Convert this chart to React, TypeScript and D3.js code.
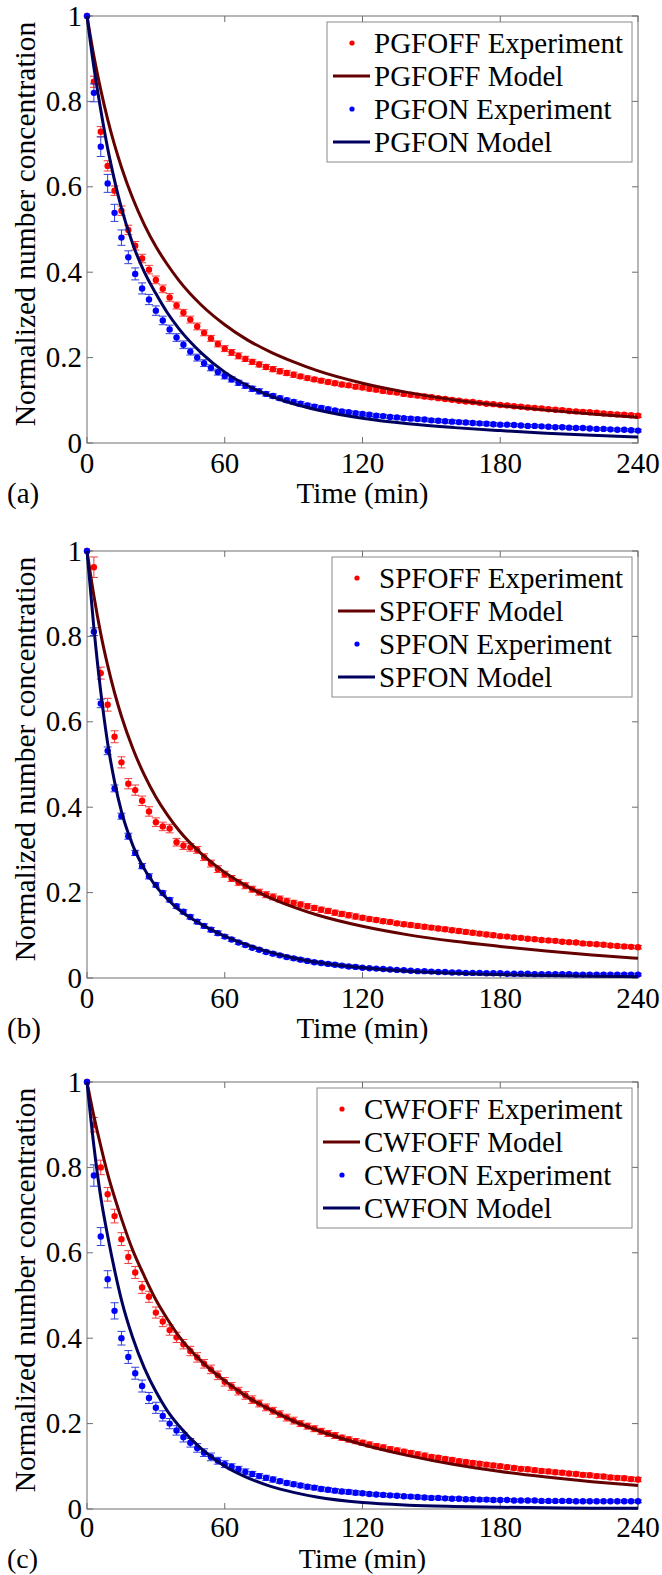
import React from 'react'
import * as d3 from 'd3'

// one experimental reading every 3 min, model curves sampled on a coarser grid
const expTimes = d3.range(0, 241, 3)
const modelTimes = [0, 3, 6, 9, 12, 15, 20, 25, 30, 35, 40, 50, 60, 70, 80, 90, 100, 120, 140, 160, 180, 200, 220, 240]
const xTicks = [0, 60, 120, 180, 240]
const yTicks = [0, 0.2, 0.4, 0.6, 0.8, 1]

// ---- panel (a) PGF ----
const pgfOffExp = [
	1.0, 0.846, 0.729, 0.649, 0.591, 0.544, 0.499, 0.462, 0.432, 0.406,
	0.382, 0.361, 0.341, 0.322, 0.305, 0.289, 0.273, 0.258, 0.245, 0.232,
	0.221, 0.212, 0.204, 0.197, 0.19, 0.184, 0.178, 0.173, 0.168, 0.164,
	0.16, 0.156, 0.152, 0.149, 0.146, 0.143, 0.14, 0.137, 0.135, 0.132,
	0.13, 0.127, 0.125, 0.122, 0.12, 0.118, 0.115, 0.113, 0.111, 0.109,
	0.107, 0.105, 0.103, 0.101, 0.099, 0.097, 0.096, 0.094, 0.092, 0.091,
	0.089, 0.088, 0.086, 0.085, 0.083, 0.082, 0.081, 0.079, 0.078, 0.077,
	0.075, 0.074, 0.073, 0.072, 0.071, 0.069, 0.068, 0.067, 0.066, 0.065,
	0.064,
]
const pgfOffErr = [
	0, 0.013, 0.012, 0.012, 0.011, 0.011, 0.011, 0.01, 0.01, 0.01,
	0.009, 0.009, 0.009, 0.008, 0.008, 0.008, 0.008, 0.007, 0.007, 0.007,
	0.007, 0.007, 0.007, 0.006, 0.006, 0.006, 0.006, 0.006, 0.006, 0.006,
	0.006, 0.005, 0.005, 0.005, 0.005, 0.005, 0.005, 0.005, 0.005, 0.005,
	0.005, 0.005, 0.005, 0.005, 0.005, 0.005, 0.005, 0.005, 0.005, 0.005,
	0.005, 0.004, 0.004, 0.004, 0.004, 0.004, 0.004, 0.004, 0.004, 0.004,
	0.004, 0.004, 0.004, 0.004, 0.004, 0.004, 0.004, 0.004, 0.004, 0.004,
	0.004, 0.004, 0.004, 0.004, 0.004, 0.004, 0.004, 0.004, 0.004, 0.004,
	0.004,
]
const pgfOnExp = [
	1.0, 0.82, 0.694, 0.608, 0.539, 0.481, 0.435, 0.396, 0.362, 0.336,
	0.31, 0.287, 0.266, 0.247, 0.23, 0.214, 0.2, 0.187, 0.176, 0.166,
	0.157, 0.149, 0.141, 0.134, 0.127, 0.121, 0.115, 0.11, 0.105, 0.1,
	0.096, 0.092, 0.088, 0.085, 0.082, 0.079, 0.076, 0.074, 0.072, 0.07,
	0.068, 0.066, 0.064, 0.063, 0.061, 0.06, 0.058, 0.057, 0.056, 0.055,
	0.053, 0.052, 0.051, 0.05, 0.049, 0.048, 0.047, 0.046, 0.045, 0.044,
	0.043, 0.043, 0.042, 0.041, 0.04, 0.04, 0.039, 0.038, 0.037, 0.037,
	0.036, 0.035, 0.035, 0.034, 0.033, 0.033, 0.032, 0.031, 0.031, 0.03,
	0.029,
]
const pgfOnErr = [
	0, 0.021, 0.023, 0.021, 0.02, 0.018, 0.015, 0.014, 0.013, 0.012,
	0.011, 0.01, 0.01, 0.009, 0.009, 0.008, 0.008, 0.008, 0.007, 0.007,
	0.007, 0.006, 0.006, 0.006, 0.006, 0.006, 0.005, 0.005, 0.005, 0.005,
	0.005, 0.005, 0.005, 0.005, 0.005, 0.005, 0.004, 0.004, 0.004, 0.004,
	0.004, 0.004, 0.004, 0.004, 0.004, 0.004, 0.004, 0.004, 0.004, 0.004,
	0.004, 0.004, 0.004, 0.004, 0.004, 0.004, 0.004, 0.004, 0.004, 0.004,
	0.003, 0.003, 0.003, 0.003, 0.003, 0.003, 0.003, 0.003, 0.003, 0.003,
	0.003, 0.003, 0.003, 0.003, 0.003, 0.003, 0.003, 0.003, 0.003, 0.003,
	0.003,
]
const pgfOffModel = [1, 0.906, 0.827, 0.758, 0.698, 0.646, 0.572, 0.511, 0.46, 0.418, 0.381, 0.322, 0.277, 0.241, 0.213, 0.19, 0.17, 0.14, 0.118, 0.101, 0.088, 0.077, 0.068, 0.06]
const pgfOnModel = [1, 0.88, 0.78, 0.69, 0.615, 0.55, 0.465, 0.4, 0.35, 0.305, 0.268, 0.21, 0.166, 0.134, 0.11, 0.092, 0.078, 0.058, 0.045, 0.036, 0.029, 0.023, 0.018, 0.014]

// ---- panel (b) SPF ----
const spfOffExp = [
	1.0, 0.962, 0.714, 0.64, 0.565, 0.505, 0.455, 0.44, 0.415, 0.39,
	0.365, 0.355, 0.35, 0.318, 0.31, 0.306, 0.3, 0.283, 0.268, 0.255,
	0.243, 0.233, 0.224, 0.216, 0.208, 0.201, 0.195, 0.19, 0.185, 0.18,
	0.176, 0.172, 0.168, 0.164, 0.16, 0.157, 0.153, 0.15, 0.147, 0.144,
	0.141, 0.138, 0.136, 0.133, 0.131, 0.128, 0.126, 0.124, 0.122, 0.12,
	0.118, 0.116, 0.114, 0.112, 0.11, 0.108, 0.106, 0.104, 0.102, 0.1,
	0.098, 0.097, 0.095, 0.094, 0.092, 0.091, 0.089, 0.088, 0.087, 0.085,
	0.084, 0.083, 0.081, 0.08, 0.079, 0.078, 0.076, 0.075, 0.074, 0.073,
	0.072,
]
const spfOffErr = [
	0, 0.024, 0.014, 0.015, 0.014, 0.013, 0.012, 0.012, 0.011, 0.011,
	0.01, 0.01, 0.01, 0.009, 0.009, 0.009, 0.008, 0.008, 0.008, 0.008,
	0.007, 0.007, 0.007, 0.007, 0.007, 0.007, 0.007, 0.007, 0.007, 0.007,
	0.006, 0.006, 0.006, 0.006, 0.006, 0.006, 0.006, 0.006, 0.006, 0.006,
	0.005, 0.005, 0.005, 0.005, 0.005, 0.005, 0.005, 0.005, 0.005, 0.005,
	0.005, 0.005, 0.005, 0.005, 0.005, 0.005, 0.005, 0.005, 0.005, 0.005,
	0.004, 0.004, 0.004, 0.004, 0.004, 0.004, 0.004, 0.004, 0.004, 0.004,
	0.004, 0.004, 0.004, 0.004, 0.004, 0.004, 0.004, 0.004, 0.004, 0.004,
	0.004,
]
const spfOnExp = [
	1.0, 0.811, 0.643, 0.532, 0.444, 0.379, 0.332, 0.293, 0.262, 0.238,
	0.218, 0.199, 0.183, 0.168, 0.155, 0.143, 0.132, 0.122, 0.113, 0.105,
	0.097, 0.09, 0.083, 0.077, 0.071, 0.066, 0.061, 0.057, 0.053, 0.049,
	0.046, 0.043, 0.04, 0.037, 0.035, 0.033, 0.031, 0.029, 0.027, 0.026,
	0.024, 0.023, 0.022, 0.021, 0.02, 0.019, 0.018, 0.017, 0.016, 0.016,
	0.015, 0.014, 0.014, 0.013, 0.013, 0.012, 0.012, 0.012, 0.011, 0.011,
	0.011, 0.01, 0.01, 0.01, 0.01, 0.009, 0.009, 0.009, 0.009, 0.009,
	0.009, 0.008, 0.008, 0.008, 0.008, 0.008, 0.008, 0.008, 0.008, 0.008,
	0.008,
]
const spfOnErr = [
	0, 0.009, 0.01, 0.009, 0.008, 0.007, 0.007, 0.006, 0.006, 0.006,
	0.005, 0.005, 0.005, 0.005, 0.005, 0.005, 0.005, 0.005, 0.005, 0.005,
	0.004, 0.004, 0.004, 0.004, 0.004, 0.004, 0.004, 0.004, 0.004, 0.004,
	0.004, 0.004, 0.004, 0.004, 0.004, 0.004, 0.004, 0.004, 0.004, 0.004,
	0.003, 0.003, 0.003, 0.003, 0.003, 0.003, 0.003, 0.003, 0.003, 0.003,
	0.003, 0.003, 0.003, 0.003, 0.003, 0.003, 0.003, 0.003, 0.003, 0.003,
	0.003, 0.003, 0.003, 0.003, 0.003, 0.003, 0.003, 0.003, 0.003, 0.003,
	0.003, 0.003, 0.003, 0.003, 0.003, 0.003, 0.003, 0.003, 0.003, 0.003,
	0.003,
]
const spfOffModel = [1, 0.895, 0.806, 0.732, 0.668, 0.613, 0.537, 0.475, 0.424, 0.382, 0.346, 0.29, 0.247, 0.214, 0.187, 0.166, 0.148, 0.121, 0.101, 0.086, 0.074, 0.063, 0.054, 0.046]
const spfOnModel = [1, 0.82, 0.67, 0.55, 0.46, 0.39, 0.31, 0.255, 0.215, 0.185, 0.16, 0.125, 0.098, 0.077, 0.06, 0.047, 0.037, 0.024, 0.016, 0.011, 0.008, 0.006, 0.004, 0.003]

// ---- panel (c) CWF ----
const cwfOffExp = [
	1.0, 0.9, 0.8, 0.737, 0.686, 0.632, 0.59, 0.554, 0.519, 0.497,
	0.46, 0.439, 0.419, 0.402, 0.386, 0.37, 0.355, 0.34, 0.327, 0.313,
	0.298, 0.287, 0.276, 0.266, 0.256, 0.247, 0.238, 0.23, 0.222, 0.214,
	0.207, 0.2, 0.194, 0.188, 0.182, 0.177, 0.172, 0.167, 0.163, 0.159,
	0.155, 0.151, 0.147, 0.144, 0.14, 0.137, 0.134, 0.131, 0.128, 0.125,
	0.122, 0.12, 0.117, 0.115, 0.112, 0.11, 0.108, 0.106, 0.104, 0.102,
	0.1, 0.098, 0.096, 0.094, 0.093, 0.091, 0.089, 0.088, 0.086, 0.085,
	0.083, 0.082, 0.08, 0.079, 0.077, 0.076, 0.074, 0.073, 0.072, 0.07,
	0.069,
]
const cwfOffErr = [
	0, 0.017, 0.017, 0.016, 0.016, 0.015, 0.015, 0.014, 0.014, 0.013,
	0.013, 0.012, 0.012, 0.012, 0.011, 0.011, 0.011, 0.01, 0.01, 0.01,
	0.01, 0.009, 0.009, 0.009, 0.009, 0.008, 0.008, 0.008, 0.008, 0.008,
	0.008, 0.007, 0.007, 0.007, 0.007, 0.007, 0.007, 0.006, 0.006, 0.006,
	0.006, 0.006, 0.006, 0.006, 0.006, 0.006, 0.006, 0.006, 0.006, 0.006,
	0.005, 0.005, 0.005, 0.005, 0.005, 0.005, 0.005, 0.005, 0.005, 0.005,
	0.005, 0.005, 0.005, 0.005, 0.005, 0.005, 0.005, 0.005, 0.005, 0.005,
	0.005, 0.005, 0.005, 0.005, 0.005, 0.005, 0.005, 0.005, 0.005, 0.005,
	0.005,
]
const cwfOnExp = [
	1.0, 0.781, 0.638, 0.538, 0.464, 0.4, 0.356, 0.318, 0.288, 0.26,
	0.237, 0.218, 0.2, 0.184, 0.168, 0.155, 0.143, 0.132, 0.122, 0.113,
	0.105, 0.099, 0.093, 0.087, 0.082, 0.077, 0.073, 0.069, 0.065, 0.061,
	0.058, 0.055, 0.052, 0.05, 0.047, 0.045, 0.043, 0.041, 0.04, 0.038,
	0.037, 0.035, 0.034, 0.033, 0.032, 0.031, 0.03, 0.029, 0.028, 0.027,
	0.026, 0.026, 0.025, 0.024, 0.024, 0.023, 0.023, 0.022, 0.022, 0.021,
	0.021, 0.021, 0.02, 0.02, 0.02, 0.02, 0.019, 0.019, 0.019, 0.019,
	0.019, 0.018, 0.018, 0.018, 0.018, 0.018, 0.018, 0.018, 0.018, 0.018,
	0.018,
]
const cwfOnErr = [
	0, 0.025, 0.021, 0.02, 0.019, 0.016, 0.015, 0.014, 0.014, 0.013,
	0.013, 0.012, 0.012, 0.011, 0.011, 0.01, 0.01, 0.009, 0.009, 0.008,
	0.008, 0.007, 0.007, 0.007, 0.006, 0.006, 0.006, 0.006, 0.005, 0.005,
	0.005, 0.005, 0.005, 0.005, 0.005, 0.005, 0.005, 0.005, 0.005, 0.005,
	0.004, 0.004, 0.004, 0.004, 0.004, 0.004, 0.004, 0.004, 0.004, 0.004,
	0.004, 0.004, 0.004, 0.004, 0.004, 0.004, 0.004, 0.004, 0.004, 0.004,
	0.003, 0.003, 0.003, 0.003, 0.003, 0.003, 0.003, 0.003, 0.003, 0.003,
	0.003, 0.003, 0.003, 0.003, 0.003, 0.003, 0.003, 0.003, 0.003, 0.003,
	0.003,
]
const cwfOffModel = [1, 0.92, 0.85, 0.785, 0.73, 0.68, 0.605, 0.545, 0.49, 0.445, 0.405, 0.345, 0.3, 0.262, 0.232, 0.206, 0.185, 0.151, 0.125, 0.104, 0.088, 0.075, 0.064, 0.055]
const cwfOnModel = [1, 0.85, 0.73, 0.64, 0.56, 0.49, 0.4, 0.33, 0.275, 0.23, 0.195, 0.14, 0.1, 0.073, 0.053, 0.039, 0.028, 0.015, 0.009, 0.006, 0.004, 0.003, 0.002, 0.002]

const panels = [
	{ tag: '(a)', name: 'PGF', top: 16, legendW: 305, offExp: pgfOffExp, offErr: pgfOffErr, onExp: pgfOnExp, onErr: pgfOnErr, offModel: pgfOffModel, onModel: pgfOnModel },
	{ tag: '(b)', name: 'SPF', top: 551, legendW: 300, offExp: spfOffExp, offErr: spfOffErr, onExp: spfOnExp, onErr: spfOnErr, offModel: spfOffModel, onModel: spfOnModel },
	{ tag: '(c)', name: 'CWF', top: 1082, legendW: 315, offExp: cwfOffExp, offErr: cwfOffErr, onExp: cwfOnExp, onErr: cwfOnErr, offModel: cwfOffModel, onModel: cwfOnModel },
]

const W = 662
const H = 1575
const left = 87
const right = 638
const plotH = 427
const font = "'Liberation Serif', 'Times New Roman', 'DejaVu Serif', serif"
const red = '#ff0000'
const redBar = '#f23a3a'
const blue = '#0000ff'
const blueBar = '#2f3fd8'
const darkRed = '#640000'
const navy = '#00005e'

const ErrorSeries = ({ x, y, values, errs, color, barColor }) => (
	<g>
		{values.map((v, i) => {
			const cx = x(expTimes[i])
			const e = errs[i]
			return (
				<g key={i}>
					{e > 0 && (
						<g stroke={barColor} strokeWidth={1}>
							<line x1={cx} x2={cx} y1={y(v - e)} y2={y(v + e)} />
							<line x1={cx - 4} x2={cx + 4} y1={y(v - e)} y2={y(v - e)} />
							<line x1={cx - 4} x2={cx + 4} y1={y(v + e)} y2={y(v + e)} />
						</g>
					)}
					<circle cx={cx} cy={y(v)} r={3.2} fill={color} />
				</g>
			)
		})}
	</g>
)

const Panel = ({ p }) => {
	const bottom = p.top + plotH
	const x = d3.scaleLinear().domain([0, 240]).range([left, right])
	const y = d3.scaleLinear().domain([0, 1]).range([bottom, p.top])
	const line = d3
		.line<number>()
		.x((d, i) => x(modelTimes[i]))
		.y(d => y(d))
		.curve(d3.curveMonotoneX)

	// the last panel's title row sits right at the bottom edge of the figure
	const squeezed = bottom + 60 > H - 7
	const titleY = squeezed ? H - 7 : bottom + 60
	const titleSize = squeezed ? 28 : 29
	const tickY = squeezed ? bottom + 28 : bottom + 30

	const lx = 632 - p.legendW
	const ly = p.top + 6
	const rows = [
		{ label: `${p.name}OFF Experiment`, kind: 'dot', color: red },
		{ label: `${p.name}OFF Model`, kind: 'line', color: darkRed },
		{ label: `${p.name}ON Experiment`, kind: 'dot', color: blue },
		{ label: `${p.name}ON Model`, kind: 'line', color: navy },
	]

	return (
		<g>
			{/* frame + inward ticks on all four sides */}
			<rect x={left} y={p.top} width={right - left} height={plotH} fill="none" stroke="#6e6e6e" strokeWidth={1} />
			{xTicks.map(t => (
				<g key={'xt' + t} stroke="#6e6e6e">
					<line x1={x(t)} x2={x(t)} y1={bottom} y2={bottom - 6} />
					<line x1={x(t)} x2={x(t)} y1={p.top} y2={p.top + 6} />
				</g>
			))}
			{yTicks.map(t => (
				<g key={'yt' + t} stroke="#6e6e6e">
					<line x1={left} x2={left + 6} y1={y(t)} y2={y(t)} />
					<line x1={right} x2={right - 6} y1={y(t)} y2={y(t)} />
				</g>
			))}

			<ErrorSeries x={x} y={y} values={p.offExp} errs={p.offErr} color={red} barColor={redBar} />
			<path d={line(p.offModel)} fill="none" stroke={darkRed} strokeWidth={3} />
			<ErrorSeries x={x} y={y} values={p.onExp} errs={p.onErr} color={blue} barColor={blueBar} />
			<path d={line(p.onModel)} fill="none" stroke={navy} strokeWidth={3} />

			{/* tick labels */}
			{xTicks.map(t => (
				<text key={'xl' + t} x={x(t)} y={tickY} fontSize={29} textAnchor="middle">
					{t}
				</text>
			))}
			{yTicks.map(t => (
				<text key={'yl' + t} x={82} y={y(t) + 9.5} fontSize={29} textAnchor="end">
					{String(t)}
				</text>
			))}

			<text x={(left + right) / 2} y={titleY} fontSize={titleSize} textAnchor="middle">
				Time (min)
			</text>
			<text x={7} y={titleY} fontSize={titleSize}>
				{p.tag}
			</text>
			<text
				transform={`translate(35, ${p.top + 208}) rotate(-90)`}
				fontSize={29.5}
				textAnchor="middle"
			>
				Normalized number concentration
			</text>

			{/* legend */}
			<rect x={lx} y={ly} width={p.legendW} height={140} fill="#fff" stroke="#8a8a8a" strokeWidth={1} />
			{rows.map((r, k) => {
				const cy = p.top + 27 + 33 * k
				return (
					<g key={r.label}>
						{r.kind === 'dot' ? (
							<circle cx={lx + 25} cy={cy} r={2.6} fill={r.color} />
						) : (
							<line x1={lx + 6} x2={lx + 43} y1={cy} y2={cy} stroke={r.color} strokeWidth={3} />
						)}
						<text x={lx + 47} y={cy + 10} fontSize={29}>
							{r.label}
						</text>
					</g>
				)
			})}
		</g>
	)
}

export default function App() {
	return (
		<svg
			width={W}
			height={H}
			viewBox={`0 0 ${W} ${H}`}
			style={{ position: 'absolute', left: 0, top: 0, background: '#fff', fontFamily: font }}
		>
			<rect width={W} height={H} fill="#fff" />
			{panels.map(p => (
				<Panel key={p.tag} p={p} />
			))}
		</svg>
	)
}
